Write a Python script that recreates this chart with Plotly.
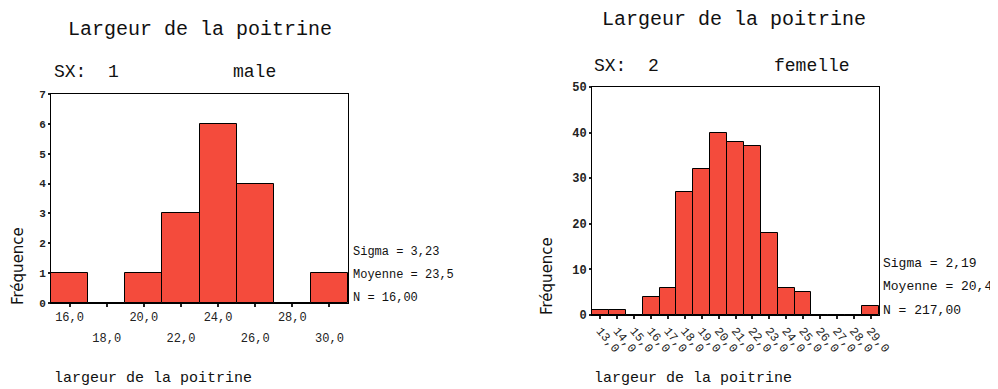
import plotly.graph_objects as go

# page is 998x389; the browser adds an 8px body margin, so the figure is sized to fit the rest
PAGE_OFF = 8
W, H = 998 - PAGE_OFF, 389 - PAGE_OFF

# ---- data ----
male_bins = [16, 18, 20, 22, 24, 26, 28, 30]
male_counts = [1, 0, 1, 3, 6, 4, 0, 1]
male_ticks_row1 = ["16,0", "20,0", "24,0", "28,0"]
male_ticks_row2 = ["18,0", "22,0", "26,0", "30,0"]
male_stats = ["Sigma = 3,23", "Moyenne = 23,5", "N = 16,00"]

fem_bins = list(range(13, 30))
fem_counts = [1, 1, 0, 4, 6, 27, 32, 40, 38, 37, 18, 6, 5, 0, 0, 0, 2]
fem_ticklabels = ["13,0", "14,0", "15,0", "16,0", "17,0", "18,0", "19,0", "20,0",
                  "21,0", "22,0", "23,0", "24,0", "25,0", "26,0", "27,0", "28,0", "29,0"]
fem_stats = ["Sigma = 2,19", "Moyenne = 20,4", "N = 217,00"]

title_txt = "Largeur de la poitrine"
xtitle_txt = "largeur de la poitrine"
ytitle_txt = "Fréquence"

BAR = "#f44b3c"
MONO = "Liberation Mono"

def px(x):
    return (x - PAGE_OFF) / W

def py(y):
    return 1 - (y - PAGE_OFF) / H

LEFT_DOM = [px(51), px(348)]

fig = go.Figure()

fig.add_trace(go.Bar(x=male_bins, y=male_counts, width=2, marker=dict(color=BAR, line=dict(color="black", width=1)),
                     xaxis="x", yaxis="y", showlegend=False))
fig.add_trace(go.Bar(x=fem_bins, y=fem_counts, width=1, marker=dict(color=BAR, line=dict(color="black", width=1)),
                     xaxis="x2", yaxis="y2", showlegend=False))
# invisible trace for the second-row tick axis
fig.add_trace(go.Scatter(x=[male_bins[0]], y=[0], mode="markers", marker=dict(opacity=0),
                         xaxis="x3", yaxis="y", showlegend=False, hoverinfo="skip"))

fig.update_layout(
    width=W, height=H, margin=dict(l=0, r=0, t=0, b=0),
    paper_bgcolor="white", plot_bgcolor="white", bargap=0,
    xaxis=dict(domain=LEFT_DOM, range=[15, 31], anchor="y", automargin=False,
               tickvals=male_bins[0::2], ticktext=male_ticks_row1,
               showline=True, mirror=True, linecolor="black", linewidth=1,
               ticks="outside", ticklen=3, tickwidth=2, tickcolor="#222",
               showgrid=False, zeroline=False,
               tickfont=dict(family=MONO, size=12, color="#222")),
    xaxis3=dict(domain=LEFT_DOM, range=[15, 31], overlaying="x", anchor="y", side="bottom", automargin=False,
                tickvals=male_bins[1::2], ticktext=male_ticks_row2,
                showline=False, ticks="outside", ticklen=3, tickwidth=2, tickcolor="#222",
                showgrid=False, zeroline=False, ticklabelstandoff=21,
                tickfont=dict(family=MONO, size=12, color="#222")),
    yaxis=dict(domain=[py(303), py(94)], range=[0, 7], anchor="x", dtick=1, automargin=False,
               showline=True, mirror=True, linecolor="black", linewidth=1,
               ticks="outside", ticklen=2, tickwidth=2, tickcolor="#222",
               showgrid=False, zeroline=False,
               tickfont=dict(family=MONO, size=11, color="#222", weight="bold")),
    xaxis2=dict(domain=[px(592), px(879)], range=[12.5, 29.5], anchor="y2", automargin=False,
                tickvals=fem_bins, ticktext=fem_ticklabels, tickangle=50,
                showline=True, mirror=True, linecolor="black", linewidth=1,
                ticks="outside", ticklen=3, tickwidth=2, tickcolor="#222",
                showgrid=False, zeroline=False,
                tickfont=dict(family=MONO, size=12, color="#222")),
    yaxis2=dict(domain=[py(315), py(87)], range=[0, 50], anchor="x2", dtick=10, automargin=False,
                showline=True, mirror=True, linecolor="black", linewidth=1,
                ticks="outside", ticklen=2, tickwidth=2, tickcolor="#222",
                showgrid=False, zeroline=False,
                tickfont=dict(family=MONO, size=12, color="#222", weight="bold")),
)

def ann(text, x, y, size, xanchor="left", family=MONO, textangle=0, color="#111"):
    fig.add_annotation(text=text, x=px(x), y=py(y), xref="paper", yref="paper",
                       xanchor=xanchor, yanchor="middle", showarrow=False,
                       textangle=textangle, font=dict(family=family, size=size, color=color))

# left panel texts
ann(title_txt, 200, 30, 20, xanchor="center")
ann("SX:  1", 52, 72, 18)
ann("male", 231, 72, 18)
for i, s in enumerate(male_stats):
    ann(s, 351, 252 + i * 23, 12)
ann(xtitle_txt, 52, 378, 15)
ann(ytitle_txt, 18, 266, 15, xanchor="center", family="DejaVu Sans", textangle=-90)

# right panel texts
ann(title_txt, 734, 20, 20, xanchor="center")
ann("SX:  2", 592, 66, 18)
ann("femelle", 772, 66, 18)
for i, s in enumerate(fem_stats):
    ann(s, 881, 263 + i * 23.5, 13)
ann(xtitle_txt, 592, 378, 15)
ann(ytitle_txt, 547, 276, 15, xanchor="center", family="DejaVu Sans", textangle=-90)

fig.write_html("out.html")
